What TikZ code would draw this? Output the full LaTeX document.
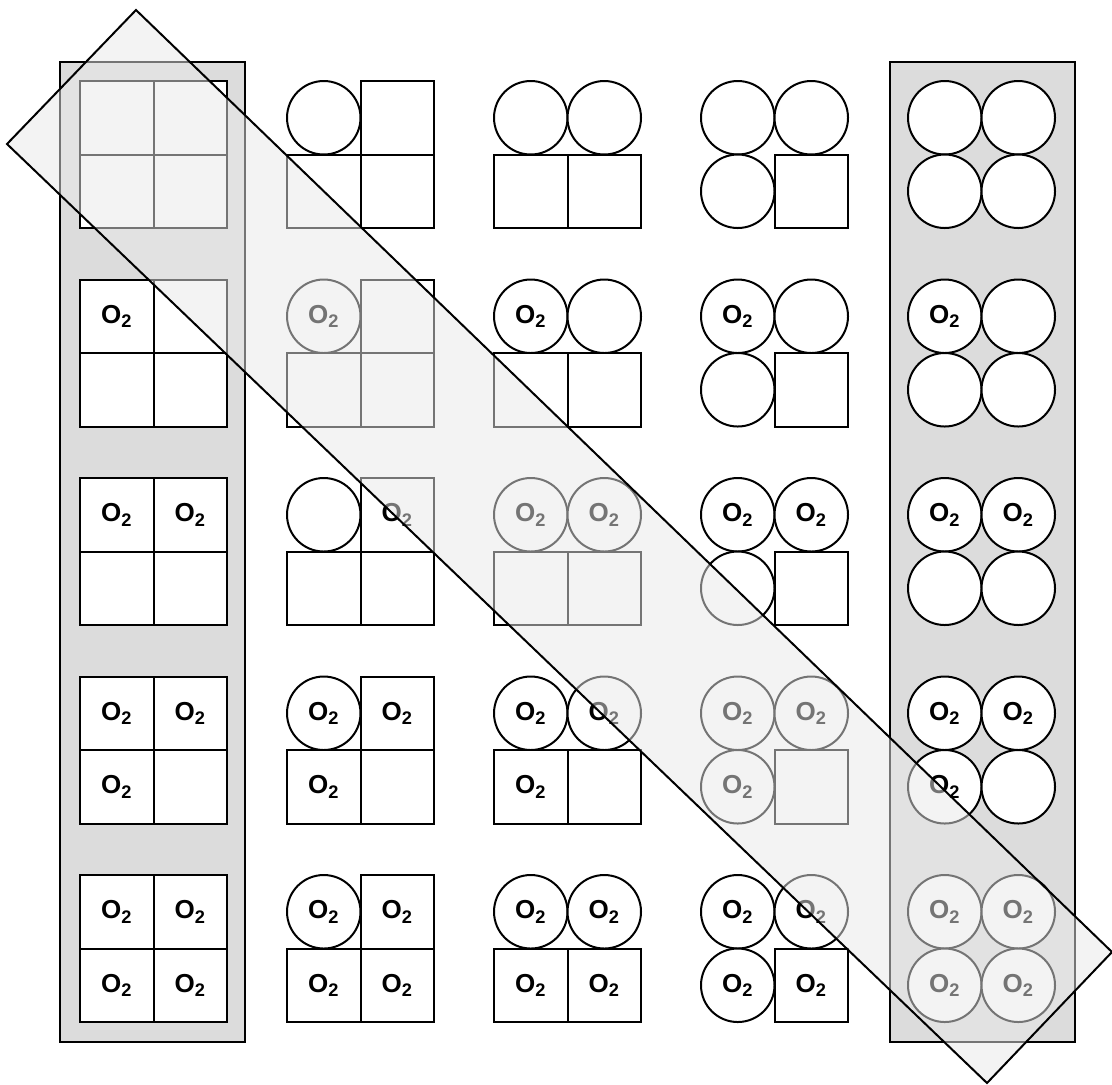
\documentclass[tikz,border=0pt]{standalone}
\usepackage{fontspec}
\setmainfont{Liberation Sans}
\usetikzlibrary{positioning}
\definecolor{colbg}{HTML}{DCDCDC}
\definecolor{bandfill}{HTML}{E8E8E8}

\tikzset{
  cellbox/.style={draw,fill=white,line width=1pt,minimum size=36.75pt,
    inner sep=0,outer sep=0,font=\fontsize{13}{15}\selectfont\bfseries},
  sqcell/.style={cellbox,rectangle},
  rdcell/.style={cellbox,circle},
  colband/.style={fill=colbg,draw=black,line width=1pt},
  diagband/.style={fill=bandfill,fill opacity=.5,draw=black,line width=1pt}
}

\begin{document}
\begin{tikzpicture}[x=.5pt,y=-.5pt]
  \useasboundingbox (0,0) rectangle (1112,1084);
  % shaded first and last columns
  \draw[colband] (60,62) rectangle (245,1042);
  \draw[colband] (890,62) rectangle (1075,1042);
  % r = number of O2, c = number of round sites
  \foreach \r in {0,...,4}\foreach \c in {0,...,4}\foreach \k in {1,...,4}{
    \pgfmathsetmacro\px{80+207*\c+36.75+73.5*mod(\k-1,2)}
    \pgfmathsetmacro\py{81+198.5*\r+36.75+73.5*int((\k-1)/2)}
    \pgfmathtruncatemacro\ox{(\k<=\r)*(1-(\r==2)*(\c==1)*(\k==1))}
    \ifnum\k>\c \def\shp{sqcell}\else\def\shp{rdcell}\fi
    \ifnum\ox=0 \def\lbl{}\else\def\lbl{O\textsubscript{2}}\fi
    \node[\shp] (p\r\c\k) at (\px,\py) {\lbl};
  }
  \draw[diagband] (136,10) -- (1112,952) -- (987,1083) -- (7,144) -- cycle;
\end{tikzpicture}
\end{document}
